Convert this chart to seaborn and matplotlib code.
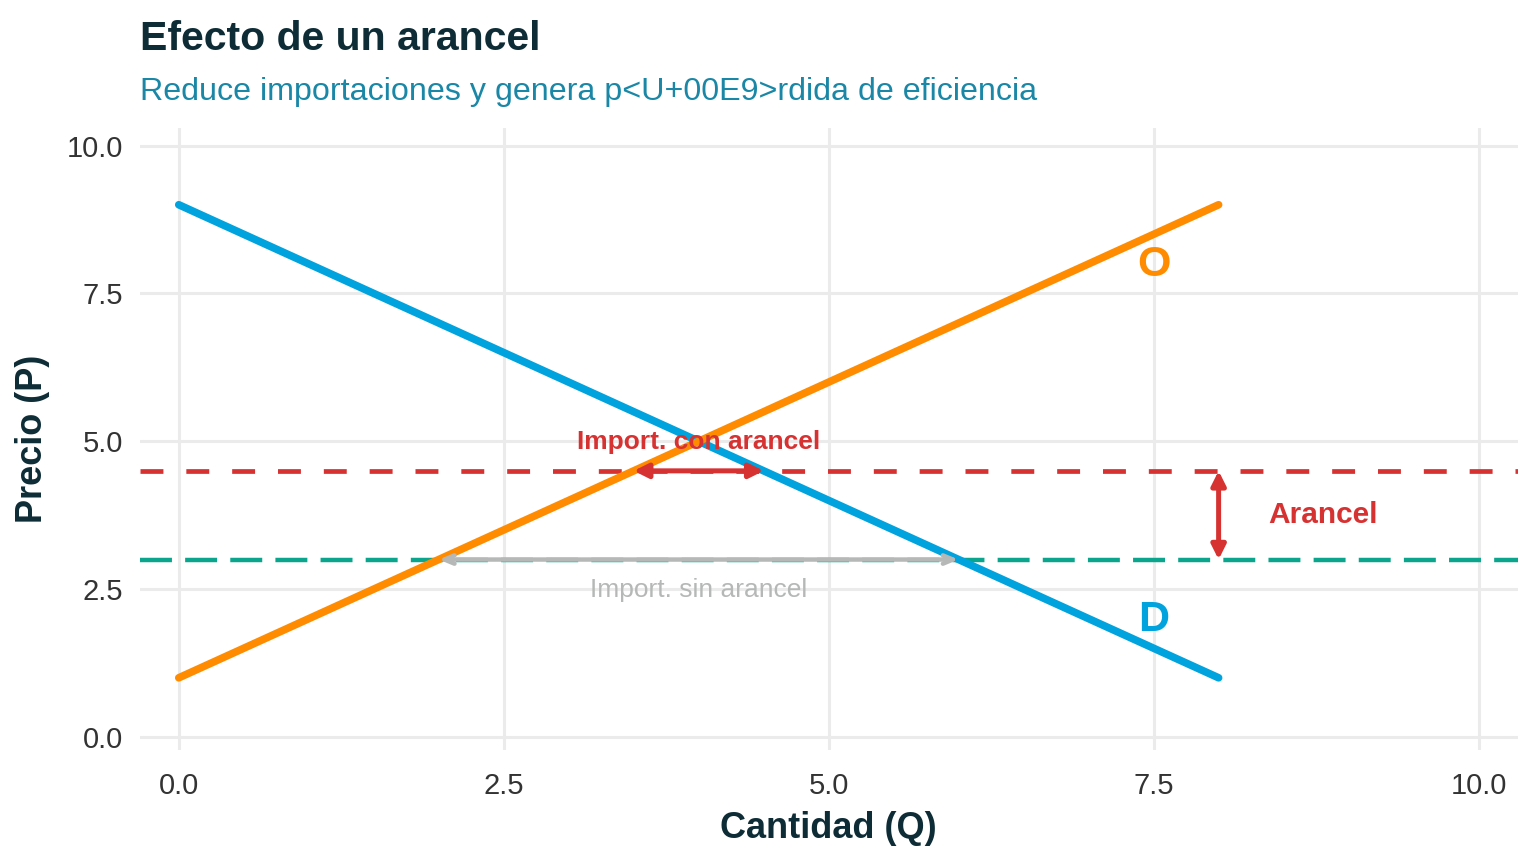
import numpy as np
import pandas as pd
import matplotlib
matplotlib.use("Agg")
import matplotlib.pyplot as plt
import seaborn as sns

# Datos del modelo
cantidad = [0, 8]
demanda = [9, 1]
oferta = [1, 9]
precio_mundial = 3.0
precio_arancel = 4.5
import_sin = [2, 6]      # Q oferta / demanda a precio mundial
import_con = [3.5, 4.5]  # Q oferta / demanda con arancel
x_ticks = [0, 2.5, 5, 7.5, 10]
y_ticks = [0, 2.5, 5, 7.5, 10]

AZUL = "#00A3DD"
NARANJA = "#FF8C00"
ROJO = "#D73232"
VERDE = "#0BA58D"
GRIS = "#B5B8B6"
OSCURO = "#0D2C36"

sns.set_theme(style="whitegrid")
plt.rcParams["font.family"] = ["Liberation Sans", "DejaVu Sans"]
plt.rcParams["lines.scale_dashes"] = False

df = pd.DataFrame({"Q": cantidad * 2,
                   "P": demanda + oferta,
                   "curva": ["D"] * len(cantidad) + ["O"] * len(cantidad)})

fig = plt.figure(figsize=(15.36, 8.64), dpi=100)
ax = fig.add_axes([0.091, 0.132, 0.897, 0.72])

# lineas de precio
ax.axhline(precio_arancel, color=ROJO, lw=3.4, dashes=(16.5, 16.5), zorder=2)
ax.axhline(precio_mundial, color=VERDE, lw=3.2, dashes=(23, 9.5), zorder=2)

sns.lineplot(data=df, x="Q", y="P", hue="curva",
             palette={"D": AZUL, "O": NARANJA}, lw=5.5, legend=False,
             ax=ax, zorder=3)

# importaciones sin arancel
ax.annotate("", xy=(import_sin[0], precio_mundial), xytext=(import_sin[1], precio_mundial),
            arrowprops=dict(arrowstyle="<->,head_length=0.6,head_width=0.25",
                            color=GRIS, lw=3.2, shrinkA=0, shrinkB=0), zorder=4)
ax.text(np.mean(import_sin), 2.48, "Import. sin arancel", color=GRIS,
        fontsize=19, ha="center", va="center", zorder=5)

# importaciones con arancel
ax.annotate("", xy=(import_con[0], precio_arancel), xytext=(import_con[1], precio_arancel),
            arrowprops=dict(arrowstyle="<|-|>,head_length=0.7,head_width=0.35",
                            color=ROJO, lw=3.6, shrinkA=0, shrinkB=0), zorder=4)
ax.text(np.mean(import_con), 4.98, "Import. con arancel", color=ROJO,
        fontsize=19, fontweight="bold", ha="center", va="center", zorder=5)

# arancel
ax.annotate("", xy=(cantidad[1], precio_mundial), xytext=(cantidad[1], precio_arancel),
            arrowprops=dict(arrowstyle="<|-|>,head_length=0.7,head_width=0.35",
                            color=ROJO, lw=3.6, shrinkA=0, shrinkB=0), zorder=4)
ax.text(8.8, 3.75, "Arancel", color=ROJO, fontsize=21.5, fontweight="bold",
        ha="center", va="center", zorder=5)

# etiquetas de curvas
ax.text(7.5, 7.98, "O", color=NARANJA, fontsize=31, fontweight="bold",
        ha="center", va="center", zorder=5)
ax.text(7.5, 1.98, "D", color=AZUL, fontsize=31, fontweight="bold",
        ha="center", va="center", zorder=5)

ax.set_xlim(-0.3, 10.3)
ax.set_ylim(-0.22, 10.3)
ax.set_xticks(x_ticks)
ax.set_yticks(y_ticks)
ax.set_xticklabels([f"{t:.1f}" for t in x_ticks])
ax.set_yticklabels([f"{t:.1f}" for t in y_ticks])
ax.tick_params(labelsize=21, colors="#333333", length=0)
ax.tick_params(axis="x", pad=16)
ax.tick_params(axis="y", pad=12)
ax.grid(True, color="#EBEBEB", lw=2.2)
for s in ax.spines.values():
    s.set_visible(False)
ax.set_facecolor("white")

ax.set_xlabel("Cantidad (Q)", fontsize=26, fontweight="bold", color=OSCURO, labelpad=8)
ax.set_ylabel("Precio (P)", fontsize=26, fontweight="bold", color=OSCURO, labelpad=12)

fig.text(0.091, 0.942, "Efecto de un arancel", fontsize=29.5, fontweight="bold",
         color=OSCURO, ha="left", va="baseline")
fig.text(0.091, 0.884, "Reduce importaciones y genera p<U+00E9>rdida de eficiencia",
         fontsize=23.2, color="#1A87A6", ha="left", va="baseline")

fig.savefig("out.png", dpi=100, facecolor="white")
